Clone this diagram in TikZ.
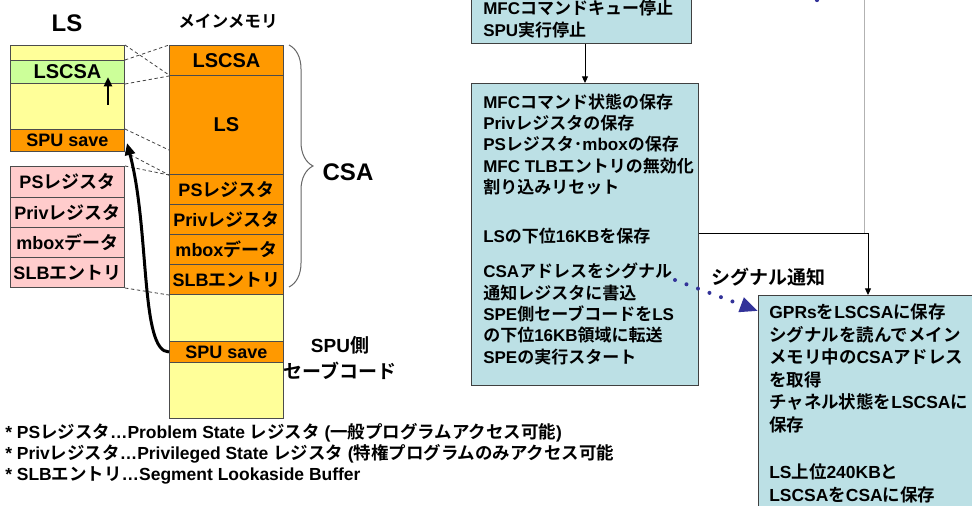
\documentclass[tikz,border=0pt]{standalone}
\usepackage{fontspec}
\setmainfont{Liberation Sans Bold}
\newfontfamily\jpfont{Noto Sans CJK JP Bold}
\usetikzlibrary{arrows.meta,decorations.pathreplacing,calc}
% automatic switch to the Japanese font for CJK characters
\XeTeXinterchartokenstate=1
\newXeTeXintercharclass\JPcls
\newcount\jpc
\jpc="3000 \loop\XeTeXcharclass\jpc=\JPcls\relax\ifnum\jpc<"30FF \advance\jpc by 1 \repeat
\jpc="4E00 \loop\XeTeXcharclass\jpc=\JPcls\relax\ifnum\jpc<"9FFF \advance\jpc by 1 \repeat
\jpc="FF00 \loop\XeTeXcharclass\jpc=\JPcls\relax\ifnum\jpc<"FFEF \advance\jpc by 1 \repeat
\XeTeXinterchartoks 0 \JPcls = {\jpfont}
\XeTeXinterchartoks 4095 \JPcls = {\jpfont}
\XeTeXinterchartoks \JPcls 0 = {\rmfamily}
\XeTeXinterchartoks \JPcls 4095 = {\rmfamily}
\definecolor{yellowc}{RGB}{255,255,153}
\definecolor{greenc}{RGB}{204,255,153}
\definecolor{orangec}{RGB}{255,153,0}
\definecolor{pinkc}{RGB}{255,204,204}
\definecolor{tealc}{RGB}{188,224,229}
\definecolor{bluec}{RGB}{51,51,153}
\tikzset{
  band/.style={draw=black!70, line width=0.75pt, inner sep=0pt, anchor=north west,
    minimum width=85.5pt, font=\fontsize{13.5}{16}\selectfont},
  yel/.style={band, fill=yellowc},
  grn/.style={band, fill=greenc},
  org/.style={band, fill=orangec},
  pnk/.style={band, fill=pinkc},
  tbox/.style={draw=black!75, fill=tealc, line width=0.75pt, inner sep=0pt},
  btxt/.style={inner sep=0pt, anchor=north west, align=left, font=\fontsize{12.75}{16}\selectfont},
  dline/.style={draw=black!75, line width=0.6pt, dash pattern=on 2.5pt off 2pt},
  thinarr/.style={draw=black, line width=0.75pt, -{Triangle[length=5pt,width=4.5pt]}},
}
\begin{document}
\begin{tikzpicture}[x=0.75pt,y=-0.75pt]
\useasboundingbox (0,0) rectangle (972,506);
\clip (0,0) rectangle (972,506);
\fill[white] (0,0) rectangle (972,506);

% titles
\node[font=\fontsize{18}{20}\selectfont] (tLS) at (67,23) {LS};
\node[font=\fontsize{12.5}{14}\selectfont] (tMM) at (228,21) {メインメモリ};

% LS column
\node[yel, minimum height=11.25pt] (lsTop) at (10,45) {};
\node[grn, minimum height=17.25pt, font=\fontsize{15}{16}\selectfont] (lsCSA) at (10,60) {LSCSA};
\node[yel, minimum height=34.5pt] (lsMid) at (10,83) {};
\node[org, minimum height=16.5pt] (lsSave) at (10,129) {SPU save};

% register copies
\node[pnk, minimum height=23.25pt] (pPS) at (10,166) {PSレジスタ};
\node[pnk, minimum height=22.5pt] (pPriv) at (10,197) {Privレジスタ};
\node[pnk, minimum height=22.5pt] (pMbox) at (10,227) {mboxデータ};
\node[pnk, minimum height=22.5pt] (pSLB) at (10,257) {SLBエントリ};

% main memory column
\node[org, minimum height=22.5pt, font=\fontsize{15}{16}\selectfont] (mCSA) at (169,45) {LSCSA};
\node[org, minimum height=74.25pt, font=\fontsize{15}{16}\selectfont] (mLS) at (169,75) {LS};
\node[org, minimum height=22.5pt] (mPS) at (169,174) {PSレジスタ};
\node[org, minimum height=22.5pt] (mPriv) at (169,204) {Privレジスタ};
\node[org, minimum height=22.5pt] (mMbox) at (169,234) {mboxデータ};
\node[org, minimum height=22.5pt] (mSLB) at (169,264) {SLBエントリ};
\node[yel, minimum height=35.25pt] (mY1) at (169,294) {};
\node[org, minimum height=15.75pt] (mSave) at (169,341) {SPU save};
\node[yel, minimum height=42pt] (mY2) at (169,362) {};

% dashed correspondences
\coordinate (m150) at (169,150);
\draw[dline] (lsTop.north east) -- (mLS.north west);
\draw[dline] (lsCSA.north east) -- (mCSA.north west);
\draw[dline] (lsCSA.south east) -- (mCSA.south west);
\draw[dline] (lsSave.north east) -- (m150);
\draw[dline] (lsSave.south east) -- (mLS.south west);
\draw[dline] (pPS.north east) -- (mLS.south west);
\draw[dline] (pSLB.south east) -- (mSLB.south west);

% arrows in LS column
\coordinate (ua0) at (108,105);
\coordinate (ua1) at (108,77);
\draw[line width=1.9pt, -{Triangle[length=7pt,width=6pt]}] (ua0) -- (ua1);
\coordinate (ct) at (127,143);
\draw[line width=2.25pt, -{Triangle[length=9pt,width=7.5pt]}]
  (mSave.west) .. controls (140,352) and (150,230) .. (ct);

% brace and labels
\coordinate (br0) at (289,45);
\coordinate (br1) at (289,287);
\draw[black!60, line width=0.75pt, decorate, decoration={brace, amplitude=18pt}] (br0) -- (br1);
\node[font=\fontsize{18}{20}\selectfont] (tCSA) at (348,172) {CSA};
\node[font=\fontsize{14.25}{19.5}\selectfont, align=center] (tSPU) at (340,358) {SPU側\\セーブコード};

% footnotes
\node[btxt, font=\fontsize{13.1}{15.75}\selectfont] (fn) at (5,419.3)
  {\rule{0pt}{14pt}* PSレジスタ…Problem State レジスタ (一般プログラムアクセス可能)\\
   * Privレジスタ…Privileged State レジスタ (特権プログラムのみアクセス可能\\
   * SLBエントリ…Segment Lookaside Buffer};

% flow boxes
\node[tbox, minimum width=165pt, minimum height=55.5pt, anchor=south west] (b1) at (471,44) {};
\node[btxt, font=\fontsize{12.75}{16.5}\selectfont] (t1) at (483,-4.7)
  {\rule{0pt}{14pt}MFCコマンドキュー停止\\SPU実行停止};
\node[tbox, minimum width=170.25pt, minimum height=226.5pt, anchor=north west] (b2) at (471,83) {};
\node[btxt] (t2) at (483,89.3)
  {\rule{0pt}{14pt}MFCコマンド状態の保存\\
   Privレジスタの保存\\
   PSレジスタ･mboxの保存\\
   MFC TLBエントリの無効化\\
   割り込みリセット\\[20.8pt]
   LSの下位16KBを保存\\[10.3pt]
   CSAアドレスをシグナル\\
   通知レジスタに書込\\
   SPE側セーブコードをLS\\
   の下位16KB領域に転送\\
   SPEの実行スタート};
\node[tbox, minimum width=172.5pt, minimum height=172.5pt, anchor=north west] (b3) at (758,295) {};
\node[btxt, font=\fontsize{13.1}{16.9}\selectfont] (t3) at (769,299.8)
  {\rule{0pt}{14pt}GPRsをLSCSAに保存\\
   シグナルを読んでメイン\\
   メモリ中のCSAアドレス\\
   を取得\\
   チャネル状態をLSCSAに\\
   保存\\[18.4pt]
   LS上位240KBと\\
   LSCSAをCSAに保存};

% connectors between flow boxes
\draw[thinarr] (b1.south -| b2.north) -- (b2.north);
\coordinate (j1) at (868,234);
\coordinate (g0) at (864,-2);
\draw[black!30, line width=0.75pt] (g0) -- (g0 |- j1);
\draw[thinarr] (b2.east |- j1) -- (j1) -- (j1 |- b3.north);
\fill[bluec] (817,0) circle (1.6pt);

% signal notification
\coordinate (s0) at (675,280);
\draw[bluec, line width=3pt, line cap=round, dash pattern=on 0pt off 9.2pt,
  -{Triangle[length=13.5pt,width=11pt]}] (s0) -- ($(b3.north west)+(0,16)$);
\node[font=\fontsize{14.25}{16}\selectfont] (tSig) at (768,277) {シグナル通知};
\end{tikzpicture}
\end{document}
